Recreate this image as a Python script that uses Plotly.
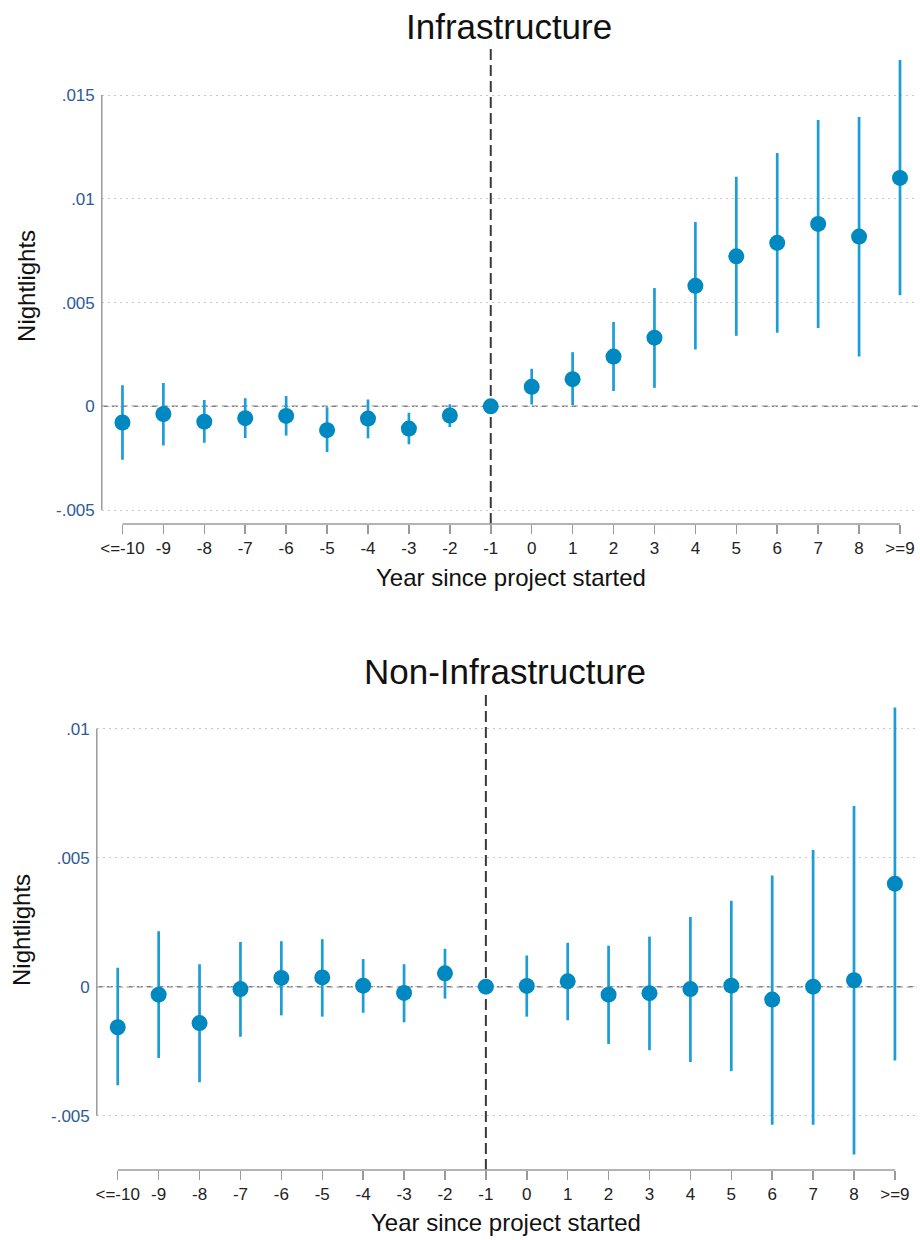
import plotly.graph_objects as go

# ---------------- data ----------------
periods = list(range(-10, 10))
period_labels = ["<=-10", "-9", "-8", "-7", "-6", "-5", "-4", "-3", "-2", "-1",
                 "0", "1", "2", "3", "4", "5", "6", "7", "8", ">=9"]

infra_coef = [-0.00078, -0.00037, -0.00074, -0.00057, -0.00046, -0.00115, -0.00059, -0.00107, -0.00044, 0.0,
              0.00094, 0.00131, 0.00240, 0.00331, 0.00581, 0.00723, 0.00788, 0.00879, 0.00818, 0.01101]
infra_hi = [0.00102, 0.00113, 0.00030, 0.00039, 0.00050, -0.00004, 0.00033, -0.00031, 0.00010, 0.0,
            0.00181, 0.00261, 0.00407, 0.00570, 0.00888, 0.01106, 0.01221, 0.01380, 0.01395, 0.01669]
infra_lo = [-0.00257, -0.00189, -0.00176, -0.00152, -0.00141, -0.00220, -0.00154, -0.00183, -0.00100, 0.0,
            0.00009, 0.00006, 0.00074, 0.00089, 0.00274, 0.00340, 0.00355, 0.00377, 0.00240, 0.00536]

non_coef = [-0.00157, -0.00031, -0.00141, -0.00009, 0.00034, 0.00036, 0.00004, -0.00024, 0.00052, 0.0,
            0.00003, 0.00021, -0.00031, -0.00025, -0.00009, 0.00004, -0.00050, 0.00000, 0.00025, 0.00399]
non_hi = [0.00073, 0.00215, 0.00087, 0.00173, 0.00176, 0.00184, 0.00107, 0.00087, 0.00147, 0.0,
          0.00121, 0.00170, 0.00159, 0.00194, 0.00270, 0.00333, 0.00431, 0.00530, 0.00700, 0.01082]
non_lo = [-0.00382, -0.00276, -0.00370, -0.00194, -0.00111, -0.00116, -0.00101, -0.00138, -0.00046, 0.0,
          -0.00116, -0.00130, -0.00222, -0.00246, -0.00292, -0.00327, -0.00535, -0.00535, -0.00650, -0.00286]

infra_yticks = [-0.005, 0, 0.005, 0.01, 0.015]
infra_yticklabels = ["-.005", "0", ".005", ".01", ".015"]
non_yticks = [-0.005, 0, 0.005, 0.01]
non_yticklabels = ["-.005", "0", ".005", ".01"]

titles = ["Infrastructure", "Non-Infrastructure"]
xtitle = "Year since project started"
ytitle = "Nightlights"

# ---------------- style ----------------
W, H = 920, 1240
FONT = "Liberation Sans, Arial, Helvetica, sans-serif"
MARKER = "#0088C0"
CI = "#1C9DD6"
AXIS = "#9a9a9a"
YTICK = "#2E5A96"

def px(v):
    return v / W

def py(v):
    return 1 - v / H

fig = go.Figure()

panels = [
    dict(coef=infra_coef, hi=infra_hi, lo=infra_lo, xa="x", ya="y",
         xdom=(100, 918), ydom=(48, 524), xr=(-10.505, 9.44), yr=(-0.00567, 0.01727),
         yt=infra_yticks, ytl=infra_yticklabels, yaxis_span=(-0.005, 0.015),
         title=titles[0], title_xy=(508, 26), xt_xy=(510, 578), yt_xy=(24, 286)),
    dict(coef=non_coef, hi=non_hi, lo=non_lo, xa="x2", ya="y2",
         xdom=(95, 917), ydom=(695, 1170), xr=(-10.512, 9.54), yr=(-0.0071, 0.0113),
         yt=non_yticks, ytl=non_yticklabels, yaxis_span=(-0.005, 0.01),
         title=titles[1], title_xy=(504, 671), xt_xy=(505, 1222), yt_xy=(19, 930)),
]

for i, p in enumerate(panels):
    err_plus = [h - c for h, c in zip(p["hi"], p["coef"])]
    err_minus = [c - l for c, l in zip(p["coef"], p["lo"])]
    fig.add_trace(go.Scatter(
        x=periods, y=p["coef"], mode="markers", xaxis=p["xa"], yaxis=p["ya"],
        marker=dict(color=MARKER, size=16, line=dict(width=0)),
        error_y=dict(type="data", array=err_plus, arrayminus=err_minus,
                     color=CI, thickness=2.7, width=0),
        showlegend=False, hoverinfo="skip", cliponaxis=False))

    suffix = "" if i == 0 else "2"
    fig.update_layout(**{
        "xaxis" + suffix: dict(
            domain=[px(p["xdom"][0]), px(p["xdom"][1])], range=list(p["xr"]),
            anchor="y" + suffix, tickmode="array", tickvals=periods, ticktext=period_labels,
            ticks="outside", ticklen=9, tickwidth=1.5, tickcolor=AXIS,
            showgrid=False, zeroline=False, showline=False,
            tickfont=dict(family=FONT, size=17, color="#222222"),
            fixedrange=True),
        "yaxis" + suffix: dict(
            domain=[py(p["ydom"][1]), py(p["ydom"][0])], range=list(p["yr"]),
            anchor="x" + suffix, tickmode="array", tickvals=p["yt"], ticktext=p["ytl"],
            ticks="", showgrid=True, gridcolor="#c8c8c8", griddash="2px,4px", gridwidth=1.2,
            zeroline=False, showline=False,
            tickfont=dict(family=FONT, size=17, color=YTICK),
            ticklabelstandoff=6,
            fixedrange=True),
    })

    xa, ya = p["xa"], p["ya"]
    # zero reference line
    fig.add_shape(type="line", xref=xa + " domain", yref=ya, x0=0, x1=1, y0=0, y1=0,
                  line=dict(color="#808080", width=1.5, dash="6px,4px"), layer="below")
    # vertical reference line at -1
    fig.add_shape(type="line", xref=xa, yref=ya + " domain", x0=-1, x1=-1, y0=0, y1=1,
                  line=dict(color="#3a3a3a", width=2, dash="11px,5px"), layer="below")
    # y axis line
    fig.add_shape(type="line", xref=xa + " domain", yref=ya, x0=0, x1=0,
                  y0=p["yaxis_span"][0], y1=p["yaxis_span"][1],
                  line=dict(color=AXIS, width=1.5))
    # x axis line
    fig.add_shape(type="line", xref=xa, yref=ya + " domain", x0=periods[0], x1=periods[-1],
                  y0=0, y1=0, line=dict(color=AXIS, width=1.5))

    fig.add_annotation(text=p["title"], xref="paper", yref="paper",
                       x=px(p["title_xy"][0]), y=py(p["title_xy"][1]),
                       xanchor="center", yanchor="middle", showarrow=False,
                       font=dict(family=FONT, size=35, color="#111111"))
    fig.add_annotation(text=xtitle, xref="paper", yref="paper",
                       x=px(p["xt_xy"][0]), y=py(p["xt_xy"][1]),
                       xanchor="center", yanchor="middle", showarrow=False,
                       font=dict(family=FONT, size=24, color="#111111"))
    fig.add_annotation(text=ytitle, xref="paper", yref="paper",
                       x=px(p["yt_xy"][0]), y=py(p["yt_xy"][1]), textangle=-90,
                       xanchor="center", yanchor="middle", showarrow=False,
                       font=dict(family=FONT, size=24, color="#111111"))

fig.update_layout(width=W, height=H, margin=dict(l=0, r=0, t=0, b=0),
                  paper_bgcolor="white", plot_bgcolor="white", showlegend=False)

fig.write_html(
    "out.html",
    config={"displayModeBar": False, "staticPlot": True},
    post_script="document.body.style.margin='0';document.body.style.overflow='hidden';"
                "document.documentElement.style.overflow='hidden';",
)
